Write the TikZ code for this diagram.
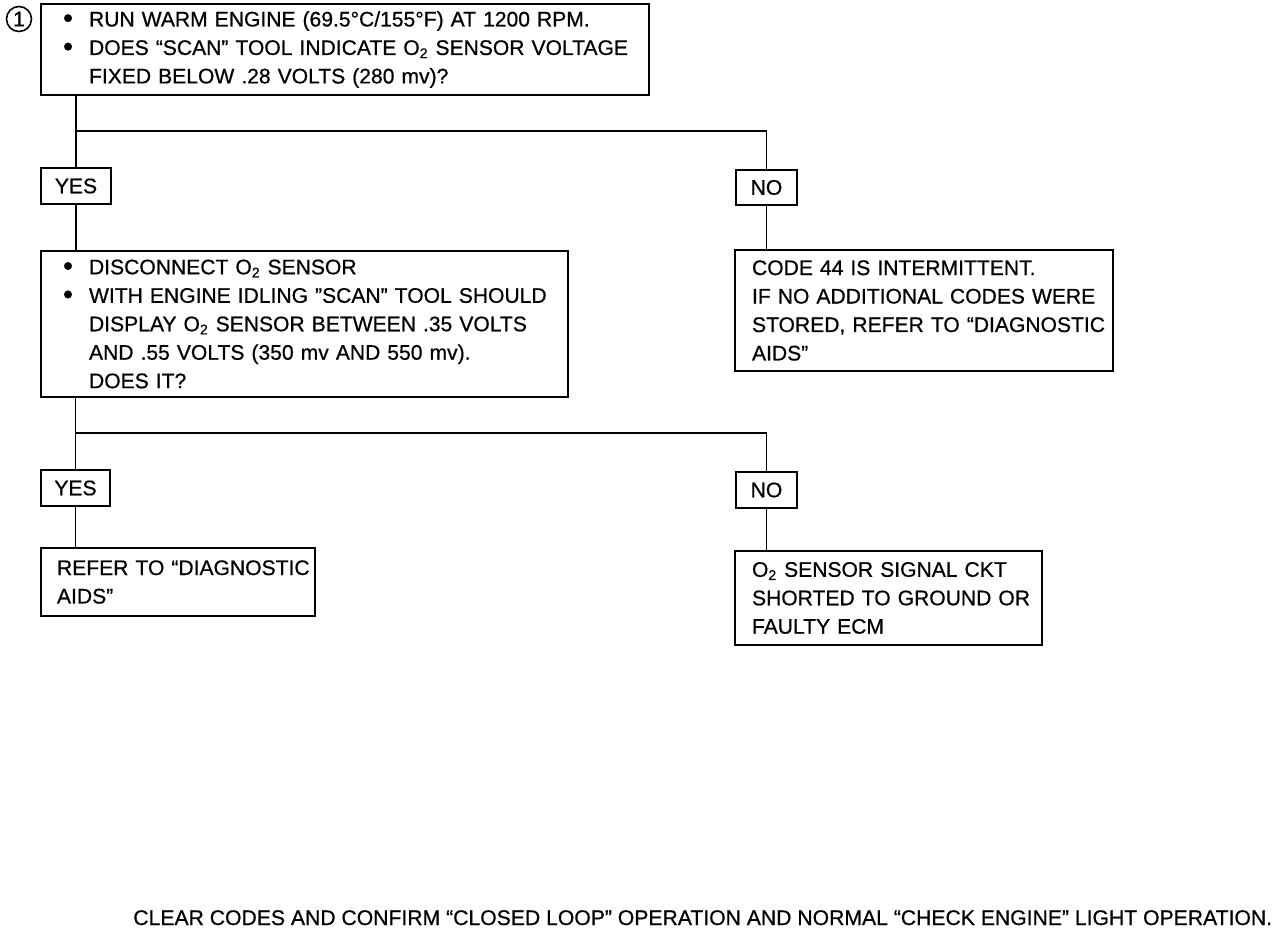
\documentclass[tikz,border=0pt]{standalone}
\usepackage{fontspec}
\setmainfont{Liberation Sans}[FakeBold=0.6]
\newcommand{\bulitem}{\makebox[0.52cm][l]{\raisebox{-0.1ex}{\scalebox{1.35}{\textbullet}}}}
\newcommand{\bulind}{\hspace*{0.52cm}}
\newcommand{\Otwo}{O\textsubscript{2}}
\begin{document}
\begin{tikzpicture}[x=0.02cm,y=-0.02cm,
  every node/.style={font=\fontsize{12}{16.2}\selectfont},
  box/.style={draw,line width=1.1pt,rectangle,align=left,inner ysep=0pt},
  ans/.style={draw,line width=1.1pt,rectangle,align=center,inner sep=0pt},
  conn/.style={line width=1.1pt}]
\useasboundingbox[fill=white] (0,0) rectangle (1280,928);
\node[circle,draw,line width=0.9pt,minimum size=0.5cm,inner sep=0pt] (c1) at (19,19) {1};
\node[box,minimum width=12.16cm,minimum height=1.82cm,text width=11.28cm,inner xsep=0.44cm] (b1) at (345,49.5)
 {\mbox{\bulitem RUN WARM ENGINE (69.5°C/155°F) AT 1200 RPM.}\\
  \mbox{\bulitem DOES “SCAN” TOOL INDICATE \Otwo{} SENSOR VOLTAGE}\\
  \mbox{\bulind FIXED BELOW .28 VOLTS (280 mv)?}};
\node[ans,minimum width=1.4cm,minimum height=0.72cm] (y1) at (76,186) {YES};
\node[ans,minimum width=1.22cm,minimum height=0.7cm] (n1) at (766.5,187.5) {NO};
\node[box,minimum width=10.54cm,minimum height=2.92cm,text width=9.66cm,inner xsep=0.44cm] (b2) at (304.5,324)
 {\mbox{\bulitem DISCONNECT \Otwo{} SENSOR}\\
  \mbox{\bulitem WITH ENGINE IDLING ”SCAN” TOOL SHOULD}\\
  \mbox{\bulind DISPLAY \Otwo{} SENSOR BETWEEN .35 VOLTS}\\
  \mbox{\bulind AND .55 VOLTS (350 mv AND 550 mv).}\\
  \mbox{\bulind DOES IT?}};
\node[box,minimum width=7.56cm,minimum height=2.42cm,text width=6.88cm,inner xsep=0.34cm] (b3) at (924,310.5)
 {\mbox{CODE 44 IS INTERMITTENT.}\\
  \mbox{IF NO ADDITIONAL CODES WERE}\\
  \mbox{STORED, REFER TO “DIAGNOSTIC}\\
  \mbox{AIDS”}};
\node[ans,minimum width=1.38cm,minimum height=0.72cm] (y2) at (75.5,488) {YES};
\node[ans,minimum width=1.22cm,minimum height=0.72cm] (n2) at (766.5,490) {NO};
\node[box,minimum width=5.48cm,minimum height=1.36cm,text width=4.84cm,inner xsep=0.32cm] (b4) at (178,582)
 {\mbox{REFER TO “DIAGNOSTIC}\\
  \mbox{AIDS”}};
\node[box,minimum width=6.14cm,minimum height=1.88cm,text width=5.46cm,inner xsep=0.34cm] (b5) at (888.5,598)
 {\mbox{\Otwo{} SENSOR SIGNAL CKT}\\
  \mbox{SHORTED TO GROUND OR}\\
  \mbox{FAULTY ECM}};
\coordinate (j1) at (77,131);
\coordinate (j2) at (77,433);
\draw[conn] (b1.south -| y1.north) -- (y1.north);
\draw[conn] (y1.north |- j1) -- (j1 -| n1.north) -- (n1.north);
\draw[conn] (y1.south) -- (y1.south |- b2.north);
\draw[conn] (n1.south) -- (n1.south |- b3.north);
\draw[conn] (b2.south -| y2.north) -- (y2.north);
\draw[conn] (y2.north |- j2) -- (j2 -| n2.north) -- (n2.north);
\draw[conn] (y2.south) -- (y2.south |- b4.north);
\draw[conn] (n2.south) -- (n2.south |- b5.north);
\node[anchor=base west,inner sep=0pt] (foot) at (133,925)
 {\resizebox{22.78cm}{!}{CLEAR CODES AND CONFIRM “CLOSED LOOP” OPERATION AND NORMAL “CHECK ENGINE” LIGHT OPERATION.}};
\end{tikzpicture}
\end{document}
